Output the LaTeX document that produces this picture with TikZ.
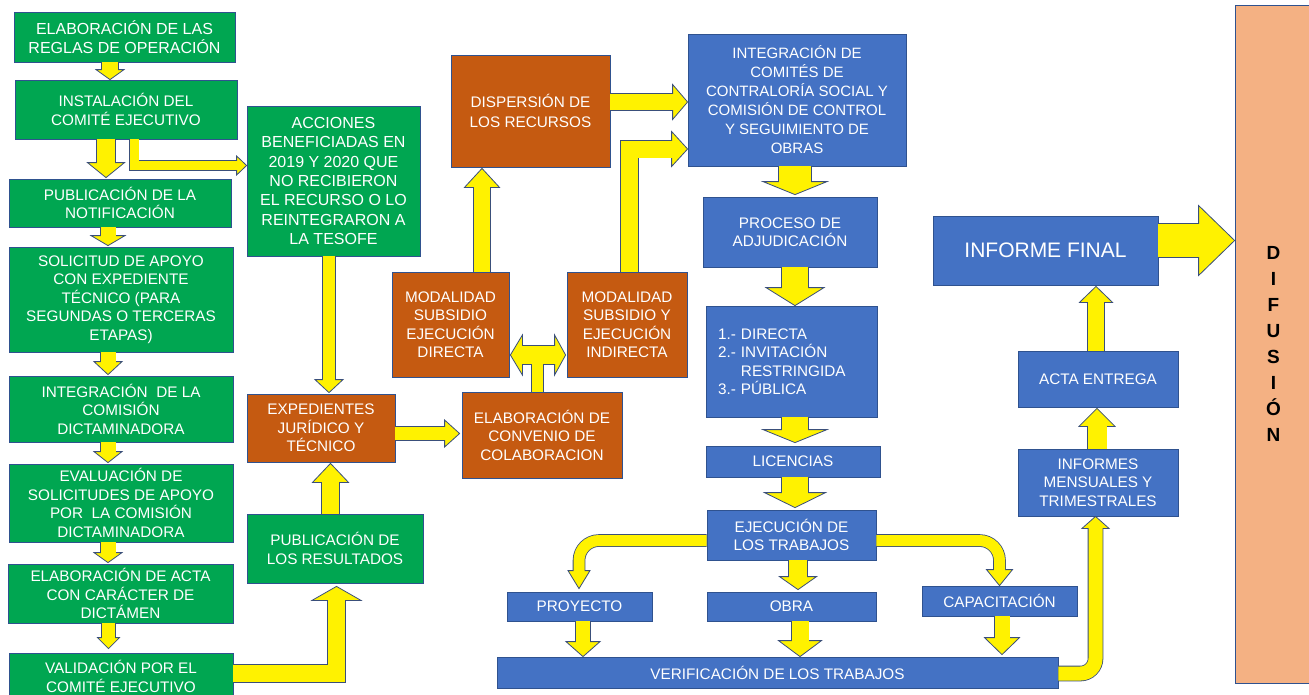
\documentclass[tikz,border=0pt]{standalone}
\usepackage{fontspec}
\setmainfont{Liberation Sans}
\usetikzlibrary{calc}
\definecolor{gfill}{HTML}{00A651}
\definecolor{ofill}{HTML}{C55A11}
\definecolor{bfill}{HTML}{4472C4}
\definecolor{dfill}{HTML}{F4B183}
\definecolor{bord}{HTML}{2F528F}
\definecolor{abord}{HTML}{3A4F7A}
\tikzset{
  box/.style={draw=bord, line width=0.8pt, inner sep=1pt, align=center, text=white,
    font=\fontsize{15.3}{18.5}\selectfont},
  greenbox/.style={box, fill=gfill},
  orangebox/.style={box, fill=ofill},
  bluebox/.style={box, fill=bfill},
}
\newcommand\yarr[4][]{%
  \draw[#1, line width=#2pt+1.6pt, draw=abord] #3;
  \filldraw[fill=yellow, draw=abord, line width=0.8pt, line join=miter] #4 -- cycle;
  \draw[#1, line width=#2pt, draw=yellow, shorten >=-1.2pt] #3;
}
\begin{document}
\begin{tikzpicture}[x=1pt, y=-1pt]
\useasboundingbox (0,0) rectangle (1309,694);
\clip (0,0) rectangle (1309,694);
\fill[white] (0,0) rectangle (1309,694);

% left green column
\node[greenbox, font=\fontsize{16}{18.5}\selectfont, minimum width=221pt, minimum height=50pt] (g1) at (124.5,37) {ELABORACIÓN DE LAS\\REGLAS DE OPERACIÓN};
\node[greenbox, minimum width=222pt, minimum height=59pt] (g2) at (126,109.5) {INSTALACIÓN DEL\\COMITÉ EJECUTIVO};
\node[greenbox, minimum width=222pt, minimum height=48pt] (g3) at (120,203) {PUBLICACIÓN DE LA\\NOTIFICACIÓN};
\node[greenbox, minimum width=224pt, minimum height=105pt] (g4) at (121,299.5) {SOLICITUD DE APOYO\\CON EXPEDIENTE\\TÉCNICO (PARA\\SEGUNDAS O TERCERAS\\ETAPAS)};
\node[greenbox, minimum width=224pt, minimum height=66pt] (g5) at (121,409) {INTEGRACIÓN \ DE LA\\COMISIÓN\\DICTAMINADORA};
\node[greenbox, minimum width=224pt, minimum height=78pt] (g6) at (121,503) {EVALUACIÓN DE\\SOLICITUDES DE APOYO\\POR \ LA COMISIÓN\\DICTAMINADORA};
\node[greenbox, minimum width=225pt, minimum height=59pt] (g7) at (120.5,593.5) {ELABORACIÓN DE ACTA\\CON CARÁCTER DE\\DICTÁMEN};
\node[greenbox, minimum width=224pt, minimum height=47pt] (g8) at (121,676.5) {VALIDACIÓN POR EL\\COMITÉ EJECUTIVO};

% second column
\node[greenbox, font=\fontsize{16}{19.3}\selectfont, minimum width=173pt, minimum height=150pt] (acc) at (333.5,181) {ACCIONES\\BENEFICIADAS EN\\2019 Y 2020 QUE\\NO RECIBIERON\\EL RECURSO O LO\\REINTEGRARON A\\LA TESOFE};
\node[greenbox, minimum width=176pt, minimum height=69pt] (pubres) at (335,548.5) {PUBLICACIÓN DE\\LOS RESULTADOS};
\node[orangebox, minimum width=148pt, minimum height=68pt] (exp) at (321,428) {EXPEDIENTES\\JURÍDICO Y\\TÉCNICO};

% orange middle
\node[orangebox, font=\fontsize{15.3}{20}\selectfont, minimum width=159pt, minimum height=112pt] (disp) at (530.5,111) {DISPERSIÓN DE\\LOS RECURSOS};
\node[orangebox, minimum width=117pt, minimum height=105pt] (modd) at (450.5,324.5) {MODALIDAD\\SUBSIDIO\\EJECUCIÓN\\DIRECTA};
\node[orangebox, minimum width=120pt, minimum height=105pt] (modi) at (627,324.5) {MODALIDAD\\SUBSIDIO Y\\EJECUCIÓN\\INDIRECTA};
\node[orangebox, minimum width=160pt, minimum height=86pt] (conv) at (542,435) {ELABORACIÓN DE\\CONVENIO DE\\COLABORACION};

% blue column
\node[bluebox, font=\fontsize{15}{19}\selectfont, minimum width=218pt, minimum height=132pt] (int) at (797,100) {INTEGRACIÓN DE\\COMITÉS DE\\CONTRALORÍA SOCIAL Y\\COMISIÓN DE CONTROL\\Y SEGUIMIENTO DE\\OBRAS};
\node[bluebox, minimum width=174pt, minimum height=70pt] (proc) at (790,232) {PROCESO DE\\ADJUDICACIÓN};
\node[bluebox, align=left, text width=147pt, inner xsep=12pt, minimum height=111pt] (list) at (791.5,361.5) {1.- DIRECTA\\2.- INVITACIÓN\\\phantom{2.- }RESTRINGIDA\\3.- PÚBLICA};
\node[bluebox, minimum width=174pt, minimum height=31pt] (lic) at (793,461.5) {LICENCIAS};
\node[bluebox, minimum width=169pt, minimum height=50pt] (eje) at (791.5,535) {EJECUCIÓN DE\\LOS TRABAJOS};
\node[bluebox, minimum width=145pt, minimum height=29pt] (proy) at (579.5,606.5) {PROYECTO};
\node[bluebox, minimum width=169pt, minimum height=29pt] (obra) at (791.5,606.5) {OBRA};
\node[bluebox, minimum width=155pt, minimum height=30pt] (cap) at (999.5,601) {CAPACITACIÓN};
\node[bluebox, minimum width=561pt, minimum height=31pt] (ver) at (777.5,672.5) {VERIFICACIÓN DE LOS TRABAJOS};

% right side
\node[bluebox, font=\fontsize{21}{24}\selectfont, minimum width=225pt, minimum height=69pt] (inf) at (1045.5,250.5) {INFORME FINAL};
\node[bluebox, minimum width=160pt, minimum height=56pt] (acta) at (1098,379) {ACTA ENTREGA};
\node[bluebox, minimum width=160pt, minimum height=67pt] (infm) at (1098,482.5) {INFORMES\\MENSUALES Y\\TRIMESTRALES};
\node[box, fill=dfill, text=black, font=\fontsize{19}{26}\selectfont\bfseries, minimum width=77pt, minimum height=678pt] (dif) at (1273.5,344) {D\\I\\F\\U\\S\\I\\Ó\\N};

% ---- arrows, left column
\yarr{16}{($(g1.south)+(-14.5,0)$) -- ($(g2.north)+(-16,-10)$)}{($(g2.north)+(-16,0)$) -- ++(-14,-10) -- ++(28,0)}
\yarr{18}{($(g2.south)+(-20,0)$) -- ($(g3.north)+(-14,-16)$)}{($(g3.north)+(-14,-1)$) -- ++(-18.5,-15) -- ++(37,0)}
\yarr{9}{($(g2.south)+(8,0)$) |- ($(acc.west)+(-10,-15.5)$)}{($(acc.west)+(0,-15.5)$) -- ++(-10,-9.5) -- ++(0,19)}
\yarr{15}{($(g3.south)+(-12,0)$) -- ($(g4.north)+(-13,-11)$)}{($(g4.north)+(-13,-1)$) -- ++(-17,-10) -- ++(34,0)}
\yarr{15}{($(g4.south)+(-13,0)$) -- ($(g5.north)+(-13,-14)$)}{($(g5.north)+(-13,-1)$) -- ++(-14,-13) -- ++(28,0)}
\yarr{15}{($(g5.south)+(-13,0)$) -- ($(g6.north)+(-13,-12)$)}{($(g6.north)+(-13,-1)$) -- ++(-14,-11) -- ++(28,0)}
\yarr{15}{($(g6.south)+(-13,0)$) -- ($(g7.north)+(-12.5,-11)$)}{($(g7.north)+(-12.5,-1)$) -- ++(-14,-10) -- ++(28,0)}
\yarr{13}{($(g7.south)+(-12,0)$) -- ($(g8.north)+(-12.5,-15)$)}{($(g8.north)+(-12.5,-4)$) -- ++(-11,-11) -- ++(22,0)}
\yarr{17}{($(g8.east)+(0,-3)$) -| ($(pubres.south)+(1.5,17)$)}{($(pubres.south)+(1.5,3)$) -- ++(-24.5,14) -- ++(49,0)}

% ---- second column
\yarr{17}{($(pubres.north)+(-4.5,0)$) -- ($(exp.south)+(9.5,20)$)}{($(exp.south)+(9.5,1)$) -- ++(-18,19) -- ++(36,0)}
\yarr{12}{($(acc.south)+(-4.5,0)$) -- ($(exp.north)+(8,-14)$)}{($(exp.north)+(8,-1)$) -- ++(-14,-13) -- ++(28,0)}
\yarr{13}{($(exp.east)+(0,5.5)$) -- ($(conv.west)+(-17,-1.5)$)}{($(conv.west)+(-2,-1.5)$) -- ++(-15,-13.5) -- ++(0,27)}

% ---- T arrow from convenio to both modalidades
\draw[line width=12.6pt, draw=abord] ($(conv.north)+(-4.5,0)$) -- ($(conv.north)+(-4.5,-37)$);
\draw[line width=19.6pt, draw=abord] ($(modd.east)+(13,30.5)$) -- ($(modi.west)+(-12,30.5)$);
\filldraw[fill=yellow, draw=abord, line width=0.8pt] ($(modd.east)+(1,30.5)$) -- ++(12,-20) -- ++(0,40) -- cycle;
\filldraw[fill=yellow, draw=abord, line width=0.8pt] ($(modi.west)+(-1,30.5)$) -- ++(-11,-20) -- ++(0,40) -- cycle;
\draw[line width=11pt, draw=yellow] ($(conv.north)+(-4.5,0)$) -- ($(conv.north)+(-4.5,-37)$);
\draw[line width=18pt, draw=yellow, shorten <=-1.2pt, shorten >=-1.2pt] ($(modd.east)+(13,30.5)$) -- ($(modi.west)+(-12,30.5)$);

% ---- orange to blue
\yarr{16}{($(modd.north)+(31.5,0)$) -- ($(disp.south)+(-48.5,20)$)}{($(disp.south)+(-48.5,1)$) -- ++(-17.5,19) -- ++(35,0)}
\yarr{17}{($(modi.north)+(2.5,0)$) |- ($(int.west)+(-16,49)$)}{($(int.west)+(0,49)$) -- ++(-16,-17.5) -- ++(0,35)}
\yarr{16}{($(disp.east)+(0,-9)$) -- ($(int.west)+(-15,2)$)}{($(int.west)+(0,2)$) -- ++(-15,-17.5) -- ++(0,35)}

% ---- blue column
\yarr{32}{($(int.south)+(-2,0)$) -- ($(proc.north)+(5,-15)$)}{($(proc.north)+(5,-2)$) -- ++(-32,-13) -- ++(64,0)}
\yarr{26}{($(proc.south)+(5,0)$) -- ($(list.north)+(3.5,-18)$)}{($(list.north)+(3.5,0)$) -- ++(-29,-18) -- ++(58,0)}
\yarr{26}{($(list.south)+(3.5,0)$) -- ($(lic.north)+(2,-16)$)}{($(lic.north)+(2,-3)$) -- ++(-32,-13) -- ++(64,0)}
\yarr{26}{($(lic.south)+(2,0)$) -- ($(eje.north)+(3.5,-17)$)}{($(eje.north)+(3.5,-2)$) -- ++(-30.5,-15) -- ++(61,0)}
\yarr{18}{($(eje.south)+(6.5,0)$) -- ($(obra.north)+(6.5,-15)$)}{($(obra.north)+(6.5,-2)$) -- ++(-18.5,-13) -- ++(37,0)}
\yarr[rounded corners=20pt]{11}{($(eje.west)+(0,5.5)$) -| ($(proy.north)+(-0.5,-21)$)}{($(proy.north)+(-0.5,-3)$) -- ++(-11,-18) -- ++(22,0)}
\yarr[rounded corners=20pt]{11}{($(eje.east)+(0,5.5)$) -| ($(cap.north)+(0,-16)$)}{(cap.north) -- ++(-13,-16) -- ++(26,0)}
\yarr{14}{($(proy.south)+(3.5,0)$) -- ($(ver.north)+(-194.5,-15)$)}{($(ver.north)+(-194.5,0)$) -- ++(-17,-15) -- ++(34,0)}
\yarr{17}{($(obra.south)+(8.5,0)$) -- ($(ver.north)+(22.5,-16)$)}{($(ver.north)+(22.5,0)$) -- ++(-21.5,-16) -- ++(43,0)}
\yarr{15}{($(cap.south)+(2.5,0)$) -- ($(ver.north)+(224.5,-19)$)}{($(ver.north)+(224.5,-2)$) -- ++(-17.5,-17) -- ++(35,0)}

% ---- right side
\yarr[rounded corners=15pt]{14}{($(ver.east)+(0,1)$) -| ($(infm.south)+(-2.5,12)$)}{($(infm.south)+(-2.5,0)$) -- ++(-13.5,12) -- ++(27,0)}
\yarr{19}{($(infm.north)+(-1,0)$) -- ($(acta.south)+(-1,19)$)}{($(acta.south)+(-1,1)$) -- ++(-18,18) -- ++(36,0)}
\yarr{16}{($(acta.north)+(-2,0)$) -- ($(inf.south)+(50.5,17)$)}{($(inf.south)+(50.5,1)$) -- ++(-16.5,16) -- ++(33,0)}
\yarr{33}{($(inf.east)+(0,-10)$) -- ($(dif.west)+(-36,-103.5)$)}{($(dif.west)+(0,-103.5)$) -- ++(-36,-35) -- ++(0,70)}
\end{tikzpicture}
\end{document}
